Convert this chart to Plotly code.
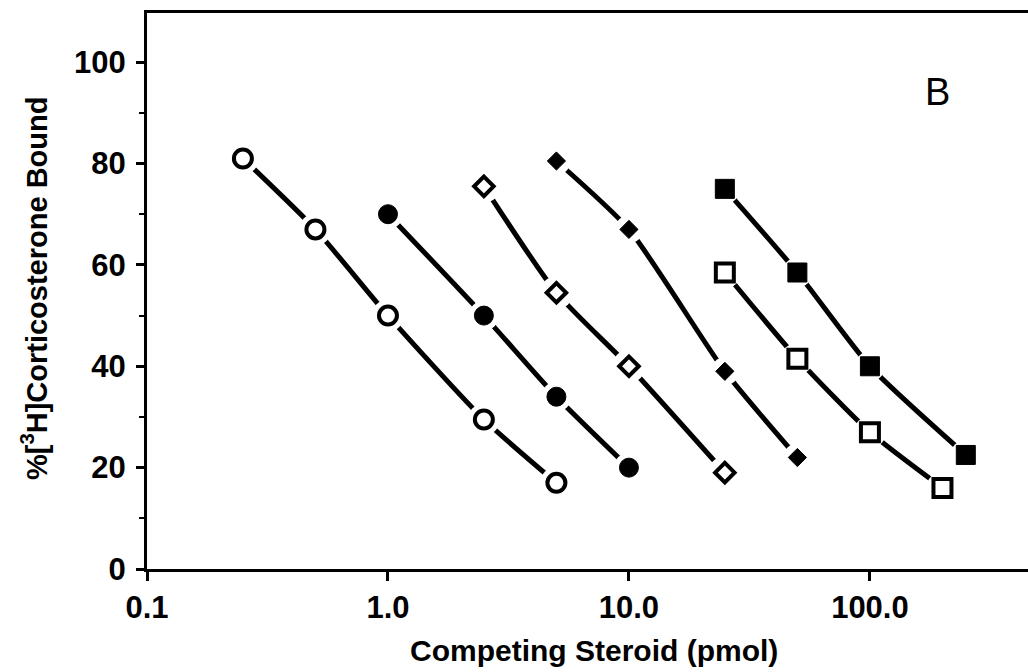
import plotly.graph_objects as go

# Data (competing steroid pmol, % bound)
open_circle_x = [0.25, 0.5, 1.0, 2.5, 5.0]
open_circle_y = [81, 67, 50, 29.5, 17]
filled_circle_x = [1.0, 2.5, 5.0, 10.0]
filled_circle_y = [70, 50, 34, 20]
open_diamond_x = [2.5, 5.0, 10.0, 25.0]
open_diamond_y = [75.5, 54.5, 40, 19]
filled_diamond_x = [5.0, 10.0, 25.0, 50.0]
filled_diamond_y = [80.5, 67, 39, 22]
filled_square_x = [25.0, 50.0, 100.0, 250.0]
filled_square_y = [75, 58.5, 40, 22.5]
open_square_x = [25.0, 50.0, 100.0, 200.0]
open_square_y = [58.5, 41.5, 27, 16]

x_tick_vals = [0.1, 1, 10, 100]
x_tick_text = ["0.1", "1.0", "10.0", "100.0"]
y_tick_vals = [0, 20, 40, 60, 80, 100]

# (x, y, symbol, size, outer diameter for the white gap)
series = [
    (open_circle_x, open_circle_y, "circle-open", 18, 22),
    (filled_circle_x, filled_circle_y, "circle", 19, 20),
    (open_diamond_x, open_diamond_y, "diamond-open", 15, 23),
    (filled_diamond_x, filled_diamond_y, "diamond", 14, 18),
    (filled_square_x, filled_square_y, "square", 19, 20),
    (open_square_x, open_square_y, "square-open", 18, 22),
]

fig = go.Figure()
# connecting curve with a white halo at each point (gives the broken-line look)
for x, y, sym, sz, outer in series:
    fig.add_trace(go.Scatter(x=x, y=y, mode="lines+markers",
                             line=dict(color="black", width=5, shape="spline", smoothing=0.6),
                             marker=dict(symbol="circle", size=outer + 10, color="white",
                                         line=dict(width=0, color="white")),
                             hoverinfo="skip", showlegend=False))
for x, y, sym, sz, outer in series:
    if sym.endswith("open"):
        marker = dict(symbol=sym, size=sz, color="black", line=dict(width=4, color="black"))
    else:
        marker = dict(symbol=sym, size=sz, color="black", line=dict(width=1, color="black"))
    fig.add_trace(go.Scatter(x=x, y=y, mode="markers", marker=marker, showlegend=False))

font_family = "Liberation Sans"
fig.update_layout(
    width=1028, height=672,
    margin=dict(l=147, r=0, t=13, b=103),
    paper_bgcolor="white", plot_bgcolor="white",
    font=dict(family=font_family, color="black"),
    xaxis=dict(
        type="log", range=[-1, 2.656],
        tickvals=x_tick_vals, ticktext=["<b>%s</b>" % t for t in x_tick_text],
        ticks="outside", ticklen=9, tickwidth=3, tickcolor="black",
        showline=True, linecolor="black", linewidth=3, mirror=True,
        showgrid=False, zeroline=False,
        tickfont=dict(size=31, family=font_family),
    ),
    yaxis=dict(
        range=[0, 109.7],
        tickvals=y_tick_vals, ticktext=["<b>%d</b>" % v for v in y_tick_vals],
        ticks="outside", ticklen=8, tickwidth=3, tickcolor="black",
        ticklabelstandoff=4,
        minor=dict(tickvals=[10, 30, 50, 70, 90], ticks="outside", ticklen=5, tickwidth=2, tickcolor="black"),
        showline=True, linecolor="black", linewidth=3,
        showgrid=False, zeroline=False,
        tickfont=dict(size=31, family=font_family),
    ),
    annotations=[
        dict(text="B", xref="paper", yref="paper", x=0.897, y=0.858,
             xanchor="center", yanchor="middle",
             showarrow=False, font=dict(size=38, family=font_family, color="black")),
        dict(text="<b>Competing Steroid (pmol)</b>", xref="paper", yref="paper",
             x=0.507, y=-0.146, xanchor="center", yanchor="middle", showarrow=False,
             font=dict(size=30, family=font_family, color="black")),
        dict(text="<b>%[<sup>3</sup>H]Corticosterone Bound</b>", xref="paper", yref="paper",
             x=-0.128, y=0.504, xanchor="center", yanchor="middle", showarrow=False,
             textangle=-90, font=dict(size=29, family=font_family, color="black")),
    ],
)

fig.write_html("out.html")
